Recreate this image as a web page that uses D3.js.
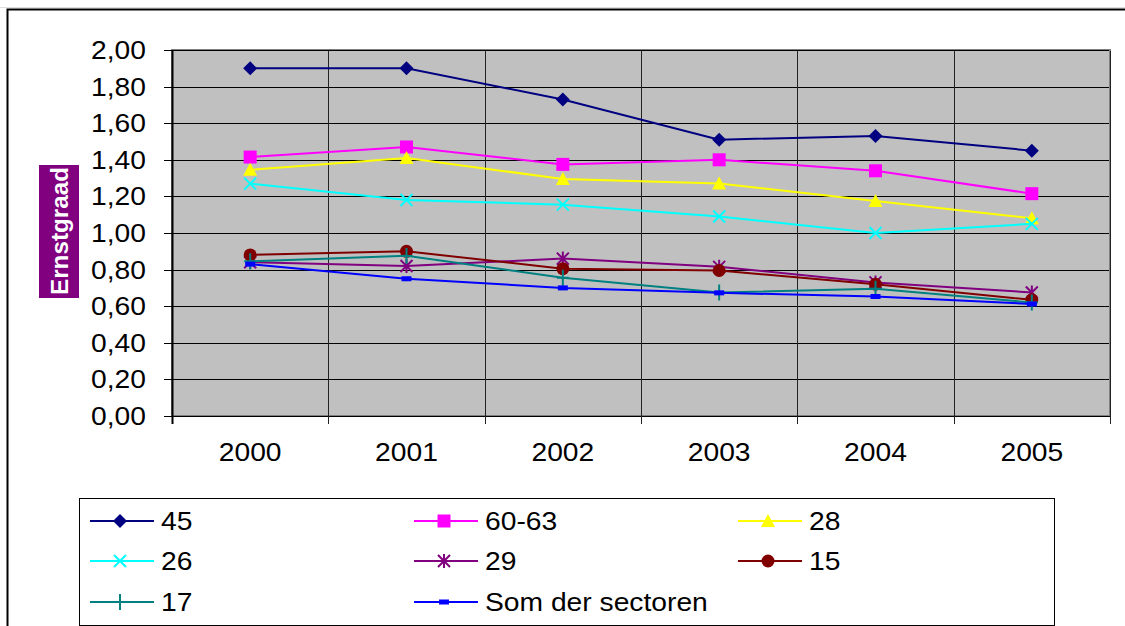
<!DOCTYPE html>
<html>
<head>
<meta charset="utf-8">
<script src="https://cdn.jsdelivr.net/npm/d3@7"></script>
<style>
	body { margin: 0; background: #fff; }
	svg { display: block; font-family: "Liberation Sans", Arial, sans-serif; }
</style>
</head>
<body>
<div id="chart"></div>
<script>
// data
const years = ["2000", "2001", "2002", "2003", "2004", "2005"];
const yTicks = [0, 0.2, 0.4, 0.6, 0.8, 1.0, 1.2, 1.4, 1.6, 1.8, 2.0];
const seriesNames = ["45", "60-63", "28", "26", "29", "15", "17", "Som der sectoren"];
const s45 = [1.90, 1.90, 1.73, 1.51, 1.53, 1.45];
const s6063 = [1.415, 1.47, 1.375, 1.40, 1.34, 1.215];
const s28 = [1.345, 1.41, 1.295, 1.27, 1.175, 1.08];
const s26 = [1.27, 1.18, 1.155, 1.09, 1.00, 1.05];
const s29 = [0.84, 0.82, 0.86, 0.815, 0.73, 0.675];
const s15 = [0.88, 0.90, 0.805, 0.795, 0.72, 0.635];
const s17 = [0.845, 0.875, 0.756, 0.675, 0.695, 0.62];
const sSom = [0.83, 0.75, 0.70, 0.673, 0.653, 0.612];
const yLabel = "Ernstgraad";

const seriesValues = [s45, s6063, s28, s26, s29, s15, s17, sSom];
const seriesColors = ["#000080", "#FF00FF", "#FFFF00", "#00FFFF", "#800080", "#800000", "#008080", "#0000FF"];
const seriesMarkers = ["diamond", "square", "triangle", "x", "star", "circle", "plus", "dash"];

const width = 1125,
	height = 626,
	plot = {left: 172, right: 1110, top: 50, bottom: 416},
	stretch = 1.13;

const fmt = v => d3.format(".2f")(v).replace(".", ",");

const svg = d3.select("#chart").append("svg")
	.attr("width", width)
	.attr("height", height);

//outer frame
svg.append("line")
	.attr("x1", 0).attr("x2", width)
	.attr("y1", 7.5).attr("y2", 7.5)
	.attr("stroke", "#dddddd");
svg.append("rect")
	.attr("x", 7.5).attr("y", 9.5)
	.attr("width", width + 10).attr("height", height + 10)
	.attr("fill", "#fff")
	.attr("stroke", "#000")
	.attr("stroke-width", 2);

//scales
const x = d3.scaleBand()
	.domain(years)
	.range([plot.left, plot.right]);
const y = d3.scaleLinear()
	.domain([0, 2])
	.range([plot.bottom, plot.top]);

//plot area
svg.append("rect")
	.attr("x", plot.left).attr("y", plot.top)
	.attr("width", plot.right - plot.left)
	.attr("height", plot.bottom - plot.top)
	.attr("fill", "#C0C0C0")
	.attr("stroke", "#808080")
	.attr("stroke-width", 2);

//horizontal gridlines
svg.selectAll("line.hgrid")
	.data(yTicks)
	.enter()
	.append("line")
	.attr("class", "hgrid")
	.attr("x1", plot.left - 8)
	.attr("x2", d => d === 0 ? plot.right : plot.right - 1)
	.attr("y1", d => Math.round(y(d)) + 0.5)
	.attr("y2", d => Math.round(y(d)) + 0.5)
	.attr("stroke", "#000")
	.attr("stroke-width", 1);

//vertical gridlines and category ticks
const bounds = years.map(d => x(d)).concat([plot.right]);
svg.selectAll("line.vgrid")
	.data(bounds)
	.enter()
	.append("line")
	.attr("class", "vgrid")
	.attr("x1", d => Math.round(d) + 0.5)
	.attr("x2", d => Math.round(d) + 0.5)
	.attr("y1", (d, i) => i === 0 ? plot.top : plot.top + 1)
	.attr("y2", plot.bottom + 8)
	.attr("stroke", (d, i) => i === 0 ? "#000" : "#222")
	.attr("stroke-width", (d, i) => i === 0 ? 2 : 1);

//y tick labels
svg.selectAll("text.ylab")
	.data(yTicks)
	.enter()
	.append("text")
	.attr("class", "ylab")
	.attr("text-anchor", "end")
	.attr("font-size", 25)
	.attr("transform", d => "translate(146," + (y(d) + 9) + ") scale(" + stretch + ",1)")
	.text(fmt);

//x tick labels
svg.selectAll("text.xlab")
	.data(years)
	.enter()
	.append("text")
	.attr("class", "xlab")
	.attr("text-anchor", "middle")
	.attr("font-size", 25)
	.attr("transform", d => "translate(" + (x(d) + x.bandwidth() / 2) + ",461) scale(" + stretch + ",1)")
	.text(d => d);

//y axis title
svg.append("rect")
	.attr("x", 39).attr("y", 165)
	.attr("width", 40).attr("height", 133)
	.attr("fill", "#800080");
svg.append("text")
	.attr("transform", "translate(68,295) rotate(-90)")
	.attr("font-size", 24)
	.attr("font-weight", "bold")
	.attr("fill", "#fff")
	.attr("textLength", 128)
	.attr("lengthAdjust", "spacingAndGlyphs")
	.text(yLabel);

//marker drawing
const drawMarker = function (g, type, color) {
	if (type === "diamond") {
		g.append("path").attr("d", "M0,-7L7,0L0,7L-7,0Z").attr("fill", color);
	} else if (type === "square") {
		g.append("rect").attr("x", -6.5).attr("y", -6.5).attr("width", 13).attr("height", 13).attr("fill", color);
	} else if (type === "triangle") {
		g.append("path").attr("d", "M0,-7L7,6L-7,6Z").attr("fill", color);
	} else if (type === "circle") {
		g.append("circle").attr("r", 6.5).attr("fill", color);
	} else if (type === "x") {
		g.append("path").attr("d", "M-6,-6L6,6M-6,6L6,-6").attr("stroke", color).attr("stroke-width", 2).attr("fill", "none");
	} else if (type === "star") {
		g.append("path").attr("d", "M-6,-6L6,6M-6,6L6,-6M0,-7L0,7").attr("stroke", color).attr("stroke-width", 2).attr("fill", "none");
	} else if (type === "plus") {
		g.append("path").attr("d", "M0,-8L0,8M-6,0L6,0").attr("stroke", color).attr("stroke-width", 2).attr("fill", "none");
	} else if (type === "dash") {
		g.append("rect").attr("x", -5).attr("y", -2.5).attr("width", 10).attr("height", 5).attr("fill", color);
	}
};

//series lines and markers
const line = d3.line()
	.x((d, i) => x(years[i]) + x.bandwidth() / 2)
	.y(d => y(d));

seriesValues.forEach((vals, si) => {
	const g = svg.append("g").attr("class", "series");
	g.append("path")
		.datum(vals)
		.attr("d", line)
		.attr("fill", "none")
		.attr("stroke", seriesColors[si])
		.attr("stroke-width", 2);
	g.selectAll("g.pt")
		.data(vals)
		.enter()
		.append("g")
		.attr("class", "pt")
		.attr("transform", (d, i) => "translate(" + (x(years[i]) + x.bandwidth() / 2) + "," + y(d) + ")")
		.each(function () {
			drawMarker(d3.select(this), seriesMarkers[si], seriesColors[si]);
		});
});

//legend
svg.append("rect")
	.attr("x", 79.5).attr("y", 498.5)
	.attr("width", 1054 - 79).attr("height", 127)
	.attr("fill", "#fff")
	.attr("stroke", "#000")
	.attr("stroke-width", 1);

const legendCols = [90, 414, 738],
	legendRows = [521, 561, 602];

const legendItem = svg.selectAll("g.legend")
	.data(seriesNames)
	.enter()
	.append("g")
	.attr("class", "legend")
	.attr("transform", (d, i) => "translate(" + legendCols[i % 3] + "," + legendRows[Math.floor(i / 3)] + ")");

legendItem.append("line")
	.attr("x1", 0).attr("x2", 64)
	.attr("y1", 0).attr("y2", 0)
	.attr("stroke", (d, i) => seriesColors[i])
	.attr("stroke-width", 2);

legendItem.append("g")
	.attr("transform", "translate(30,0)")
	.each(function (d, i) {
		drawMarker(d3.select(this), seriesMarkers[i], seriesColors[i]);
	});

legendItem.append("text")
	.attr("font-size", 25)
	.attr("transform", "translate(71,9) scale(" + stretch + ",1)")
	.text(d => d);
</script>
</body>
</html>
